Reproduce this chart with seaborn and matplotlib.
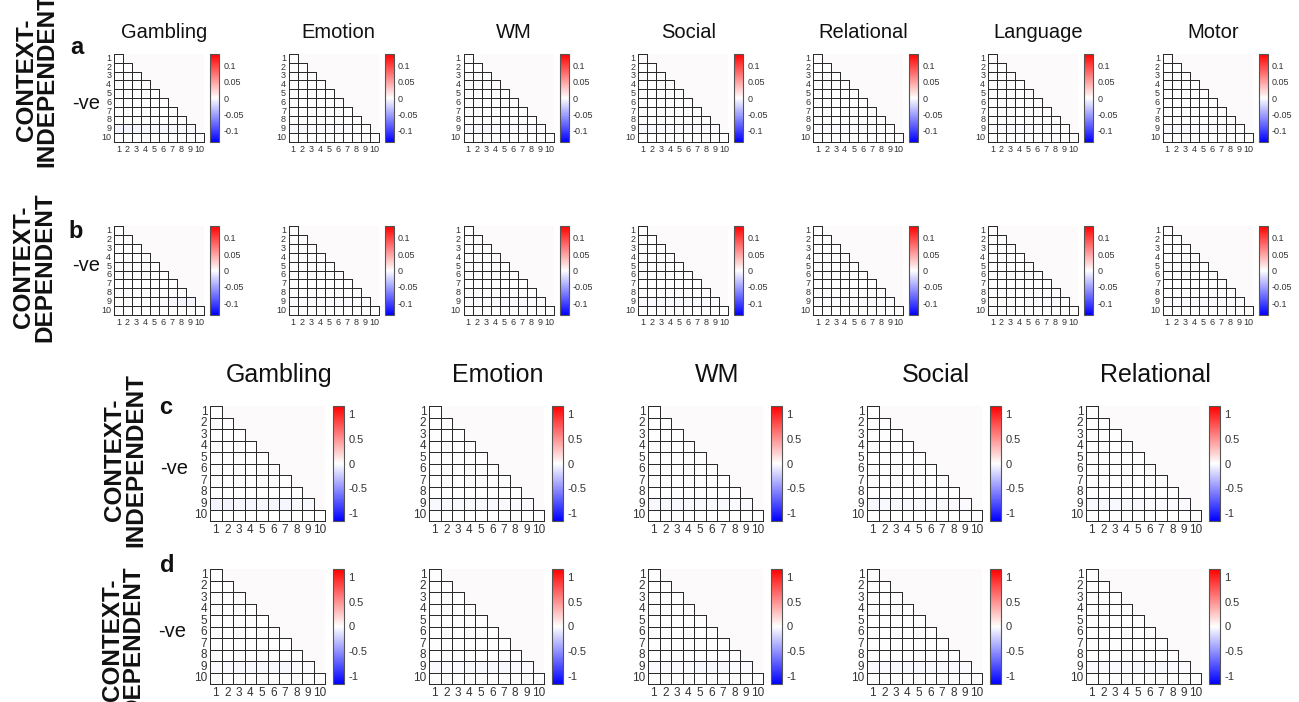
import numpy as np
import pandas as pd
import matplotlib
matplotlib.use("Agg")
import matplotlib.pyplot as plt
import seaborn as sns

sns.set_theme(style="white")
plt.rcParams["font.family"] = ["Liberation Sans", "DejaVu Sans"]

# ---------------------------------------------------------------- data
tasks_ab = ["Gambling", "Emotion", "WM", "Social", "Relational", "Language", "Motor"]
tasks_cd = ["Gambling", "Emotion", "WM", "Social", "Relational"]
nodes = [1, 2, 3, 4, 5, 6, 7, 8, 9, 10]

ticks_ab = [0.1, 0.05, 0, -0.05, -0.1]
tick_labels_ab = ["0.1", "0.05", "0", "-0.05", "-0.1"]
ticks_cd = [1, 0.5, 0, -0.5, -1]
tick_labels_cd = ["1", "0.5", "0", "-0.5", "-1"]

# Negative-edge weights between node 9 and nodes 1-9; every other edge is ~0
row9_a = {
    "Gambling":   [-0.006, -0.006, -0.005, -0.005, -0.005, -0.005, -0.005, -0.004, -0.004],
    "Emotion":    [-0.004, -0.004, -0.003, -0.003, -0.003, -0.003, -0.003, -0.002, -0.002],
    "WM":         [-0.004, -0.004, -0.004, -0.003, -0.003, -0.003, -0.003, -0.003, -0.002],
    "Social":     [-0.004, -0.004, -0.003, -0.003, -0.003, -0.003, -0.003, -0.003, -0.002],
    "Relational": [-0.003, -0.003, -0.003, -0.003, -0.003, -0.003, -0.002, -0.002, -0.002],
    "Language":   [-0.003, -0.003, -0.003, -0.003, -0.003, -0.002, -0.002, -0.002, -0.002],
    "Motor":      [-0.004, -0.004, -0.004, -0.003, -0.003, -0.003, -0.003, -0.003, -0.002],
}
row9_b = {
    "Gambling":   [0.002, 0.002, 0.001, 0.000, -0.002, -0.003, -0.005, -0.006, -0.006],
    "Emotion":    [-0.002, -0.002, -0.003, -0.003, -0.003, -0.003, -0.003, -0.003, -0.002],
    "WM":         [-0.002, -0.002, -0.002, -0.003, -0.003, -0.003, -0.003, -0.002, -0.002],
    "Social":     [-0.003, -0.003, -0.004, -0.004, -0.004, -0.004, -0.004, -0.003, -0.003],
    "Relational": [-0.002, -0.002, -0.002, -0.002, -0.003, -0.003, -0.003, -0.002, -0.002],
    "Language":   [0.003, 0.002, 0.001, -0.001, -0.002, -0.003, -0.003, -0.003, -0.002],
    "Motor":      [-0.003, -0.003, -0.003, -0.003, -0.003, -0.003, -0.003, -0.002, -0.002],
}
row9_c = {
    "Gambling":   [-0.05, -0.05, -0.04, -0.04, -0.04, -0.04, -0.04, -0.03, -0.03],
    "Emotion":    [-0.03, -0.03, -0.03, -0.03, -0.03, -0.03, -0.02, -0.02, -0.02],
    "WM":         [-0.03, -0.03, -0.03, -0.03, -0.03, -0.03, -0.03, -0.02, -0.02],
    "Social":     [-0.03, -0.03, -0.03, -0.03, -0.03, -0.03, -0.03, -0.02, -0.02],
    "Relational": [-0.03, -0.03, -0.03, -0.03, -0.03, -0.02, -0.02, -0.02, -0.02],
}
row9_d = {
    "Gambling":   [-0.02, -0.02, -0.03, -0.03, -0.03, -0.03, -0.03, -0.02, -0.02],
    "Emotion":    [-0.02, -0.02, -0.02, -0.03, -0.03, -0.03, -0.03, -0.02, -0.02],
    "WM":         [-0.02, -0.02, -0.02, -0.02, -0.03, -0.03, -0.03, -0.02, -0.02],
    "Social":     [-0.02, -0.02, -0.03, -0.03, -0.03, -0.03, -0.03, -0.02, -0.02],
    "Relational": [-0.02, -0.02, -0.02, -0.02, -0.03, -0.03, -0.03, -0.02, -0.02],
}

# ---------------------------------------------------------------- layout helpers
W, H = 1299, 702
fig = plt.figure(figsize=(W / 100, H / 100), dpi=100)
fig.patch.set_facecolor("white")


def box(x, y, w, h):
    """Pixel box (from top-left) -> figure fraction rect."""
    return [x / W, 1 - (y + h) / H, w / W, h / H]


def fy(y):
    return 1 - y / H


def fx(x):
    return x / W


def edge_matrix(row9):
    m = np.zeros((10, 10))
    m[8, :9] = row9
    return pd.DataFrame(m, index=nodes, columns=nodes)


mask = np.triu(np.ones((10, 10), dtype=bool), k=1)
EDGE = (0.17, 0.17, 0.17, 1.0)
NO_EDGE = (0.0, 0.0, 0.0, 0.0)
cell_edges = [NO_EDGE if m else EDGE for m in mask.ravel()]


def draw_panel(rect, cbar_rect, row9, vlim, ticks, tick_labels, fs_tick, fs_cbar):
    ax = fig.add_axes(rect)
    cax = fig.add_axes(cbar_rect)
    ax.set_facecolor("#fdfafb")
    sns.heatmap(edge_matrix(row9), mask=mask, cmap="bwr", vmin=-vlim, vmax=vlim,
                linewidths=0.7, linecolor="#2b2b2b", ax=ax, cbar_ax=cax,
                square=False, xticklabels=1, yticklabels=1)
    # outline only the lower-triangle cells, keeping the outer border unclipped
    mesh = ax.collections[0]
    mesh.set_edgecolor(cell_edges)
    mesh.set_clip_on(False)
    ax.tick_params(axis="x", labelrotation=0)
    ax.tick_params(axis="y", labelrotation=0)
    ax.tick_params(length=0, pad=2, labelsize=fs_tick, labelcolor="#333333")
    ax.set_xlabel("")
    ax.set_ylabel("")
    cax.set_yticks(ticks)
    cax.set_yticklabels(tick_labels, fontsize=fs_cbar, color="#333333")
    cax.tick_params(length=0, pad=3)
    cb = mesh.colorbar
    cb.outline.set_edgecolor("#555555")
    cb.outline.set_linewidth(0.8)
    cb.outline.set_visible(True)


# ---------------------------------------------------------------- rows a & b
ab_rows = [(54, 88, row9_a), (226, 89, row9_b)]
for r, (top, h, row9) in enumerate(ab_rows):
    for i, task in enumerate(tasks_ab):
        left = 114 + 174.8 * i
        draw_panel(box(left, top, 90, h), box(left + 96, top, 9, h),
                   row9[task], 0.135, ticks_ab, tick_labels_ab, 6.5, 6.5)
        if r == 0:
            fig.text(fx(left + 50), fy(38), task, ha="center", va="baseline",
                     fontsize=14.5, color="#111111")

# ---------------------------------------------------------------- rows c & d
cd_rows = [(406, 115, row9_c), (569, 115, row9_d)]
for r, (top, h, row9) in enumerate(cd_rows):
    for i, task in enumerate(tasks_cd):
        left = 210 + 219 * i
        draw_panel(box(left, top, 115, h), box(left + 123, top, 11, h),
                   row9[task], 1.16, ticks_cd, tick_labels_cd, 8.5, 8)
        if r == 0:
            fig.text(fx(left + 69), fy(382), task, ha="center", va="baseline",
                     fontsize=18, color="#111111")

# ---------------------------------------------------------------- panel letters, -ve, row labels
letters = [("a", 77, 47), ("b", 76, 232), ("c", 166, 407), ("d", 167, 566)]
for s, x, y in letters:
    fig.text(fx(x), fy(y), s, ha="center", va="center", fontsize=17,
             fontweight="bold", color="#111111")

ve_pos = [(86, 109), (86, 271), (174, 474), (172, 637)]
for x, y in ve_pos:
    fig.text(fx(x), fy(y), "-ve", ha="center", va="baseline", fontsize=14.5,
             color="#111111")

row_labels = [
    ("CONTEXT-", "INDEPENDENT", 26, 47, 80),
    ("CONTEXT-", "DEPENDENT", 24, 45, 267),
    ("CONTEXT-", "INDEPENDENT", 114, 136, 460),
    ("CONTEXT-", "DEPENDENT", 113, 133, 640),
]
for l1, l2, x1, x2, yc in row_labels:
    fig.text(fx(x1), fy(yc), l1, rotation=90, ha="center", va="center",
             fontsize=17.5, fontweight="bold", color="#111111")
    fig.text(fx(x2), fy(yc), l2, rotation=90, ha="center", va="center",
             fontsize=17.5, fontweight="bold", color="#111111")

fig.savefig("out.png", dpi=100, facecolor="white")
